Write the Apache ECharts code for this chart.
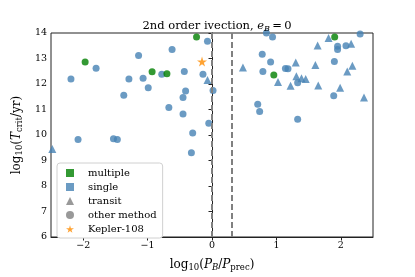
<!DOCTYPE html>
<html><head><meta charset="utf-8">
<script src="https://cdn.jsdelivr.net/npm/echarts@6/dist/echarts.min.js"></script>
<style>html,body{margin:0;padding:0;background:#fff}#c{width:415px;height:277px}</style>
</head><body><div id="c"></div>
<script>
// Blue circles: single planets, other detection method
const singleOther = [
  [-2.19,12.2],[-1.80,12.62],[-1.14,13.12],[-0.62,13.35],[-0.07,13.68],[-0.78,12.38],[-0.43,12.49],
  [-0.14,12.38],[-1.29,12.2],[-1.07,12.23],[-0.99,11.85],[-1.37,11.56],[0.016,11.75],[-0.41,11.73],
  [-0.45,11.47],[-0.67,11.08],[-0.45,10.82],[-0.05,10.46],[-2.08,9.82],[-1.53,9.85],[-1.47,9.82],
  [-0.30,10.08],[-0.32,9.30],
  [0.94,13.84],[0.845,14.0],[2.30,13.96],[1.95,13.48],[1.95,13.35],[2.08,13.50],[0.78,13.17],
  [0.91,12.86],[0.79,12.49],[1.14,12.61],[1.18,12.60],[1.90,12.88],[1.33,12.05],[1.89,11.54],
  [0.71,11.21],[0.74,10.92],[1.33,10.62]
];
// Blue triangles: single planets, transit
const singleTransit = [
  [-0.07,12.16],[-2.48,9.45],[1.81,13.80],[1.64,13.51],[2.16,13.58],[0.48,12.65],[1.30,12.84],
  [1.605,12.75],[2.18,12.72],[2.10,12.49],[1.025,12.08],[1.31,12.30],[1.39,12.23],[1.455,12.2],
  [1.22,11.93],[1.65,11.94],[1.99,11.85],[2.36,11.47]
];
// Green circles: multiple planets, other method
const multipleOther = [
  [-1.97,12.86],[-0.24,13.84],[-0.93,12.48],[-0.70,12.40],[1.905,13.84],[0.96,12.35]
];
// Kepler-108
const kepler108 = [[-0.155,12.88]];
// Dashed reference lines
const dashedLinesX = [0, Math.log10(2)];
const xTicks = [-2,-1,0,1,2];
const yTicks = [6,7,8,9,10,11,12,13,14];
const legendNames = ['multiple','single','transit','other method','Kepler-108'];

const BLUE = '#4682b4', GREEN = '#008000', ORANGE = '#ff8c00', GREY = '#808080';
const STAR = 'path://M50,0 L61,35 L98,35 L68,57 L79,91 L50,70 L21,91 L32,57 L2,35 L39,35 Z';
const FONT = 'DejaVu Serif';
const minus = v => String(v).replace('-', '\u2212');

const chart = echarts.init(document.getElementById('c'), null, {renderer:'canvas'});
const legendStyle = {
  'multiple': {symbol:'rect', color:GREEN},
  'single': {symbol:'rect', color:BLUE},
  'transit': {symbol:'triangle', color:GREY},
  'other method': {symbol:'circle', color:GREY},
  'Kepler-108': {symbol:STAR, color:ORANGE}
};
const legendSeries = legendNames.map(n => ({
  type:'scatter', name:n, data:[], symbol:legendStyle[n].symbol,
  itemStyle:{color:legendStyle[n].color}
}));

chart.setOption({
  animation:false,
  title:{
    text:'2nd order ivection, {it|e}{sub|B}{n|\u2009=\u20090}',
    left:212, top:15, textAlign:'center',
    textStyle:{fontFamily:FONT, fontSize:11.5, fontWeight:'normal', color:'#000',
      rich:{
        it:{fontFamily:FONT, fontStyle:'italic', fontSize:11.5},
        sub:{fontFamily:FONT, fontStyle:'italic', fontSize:8, padding:[5,0,0,0]},
        n:{fontFamily:FONT, fontSize:11.5}
      }}
  },
  grid:{left:51, right:42, top:33, bottom:35, show:true, borderColor:'#222', borderWidth:1},
  legend:{
    orient:'vertical', left:57, top:163,
    data:legendNames.map(n => ({name:n, icon:legendStyle[n].symbol})),
    itemWidth:8, itemHeight:8, itemGap:4,
    padding:[5,6,4,9],
    borderColor:'#d0d0d0', borderWidth:1, borderRadius:3, backgroundColor:'#fff',
    textStyle:{fontFamily:FONT, fontSize:10, color:'#000', padding:[0,0,0,9]},
    selectedMode:false
  },
  xAxis:{
    type:'value', min:-2.5, max:2.5, interval:0.5,
    name:'log{sub|10}({it|P}{subi|B}/{it|P}{sub|prec})',
    nameLocation:'middle', nameGap:20,
    nameTextStyle:{fontFamily:FONT, fontSize:12, color:'#000',
      rich:{
        it:{fontFamily:FONT, fontStyle:'italic', fontSize:12},
        sub:{fontFamily:FONT, fontSize:8.5, padding:[6,0,0,0]},
        subi:{fontFamily:FONT, fontStyle:'italic', fontSize:8.5, padding:[6,0,0,0]}
      }},
    axisLine:{show:true, onZero:false, lineStyle:{color:'#222'}},
    axisTick:{show:true, length:3.5, customValues:xTicks, lineStyle:{color:'#222'}},
    axisLabel:{customValues:xTicks, fontFamily:FONT, fontSize:9.5, color:'#000', margin:4, formatter:minus},
    splitLine:{show:false}
  },
  yAxis:{
    type:'value', min:6, max:14, interval:1,
    name:'log{sub|10}({it|T}{sub|crit}/yr)',
    nameLocation:'middle', nameGap:25, nameRotate:90,
    nameTextStyle:{fontFamily:FONT, fontSize:12, color:'#000',
      rich:{
        it:{fontFamily:FONT, fontStyle:'italic', fontSize:12},
        sub:{fontFamily:FONT, fontSize:8.5, padding:[6,0,0,0]}
      }},
    axisLine:{show:true, lineStyle:{color:'#222'}},
    axisTick:{show:true, length:3.5, lineStyle:{color:'#222'}},
    axisLabel:{fontFamily:FONT, fontSize:9.5, color:'#000', margin:4, formatter:minus},
    splitLine:{show:false}
  },
  series:[
    {type:'scatter', data:[], silent:true,
     markLine:{silent:true, symbol:'none', label:{show:false},
       lineStyle:{color:GREY, type:[6,3], width:2},
       data:dashedLinesX.map(v => ({xAxis:v}))}},
    {type:'scatter', data:singleOther, symbol:'circle', symbolSize:7, itemStyle:{color:BLUE}, clip:true},
    {type:'scatter', data:singleTransit, symbol:'triangle', symbolSize:8, itemStyle:{color:BLUE}, clip:true},
    {type:'scatter', data:multipleOther, symbol:'circle', symbolSize:7, itemStyle:{color:GREEN}},
    {type:'scatter', data:kepler108, symbol:STAR, symbolSize:10, itemStyle:{color:ORANGE}},
    ...legendSeries
  ]
});
</script></body></html>
